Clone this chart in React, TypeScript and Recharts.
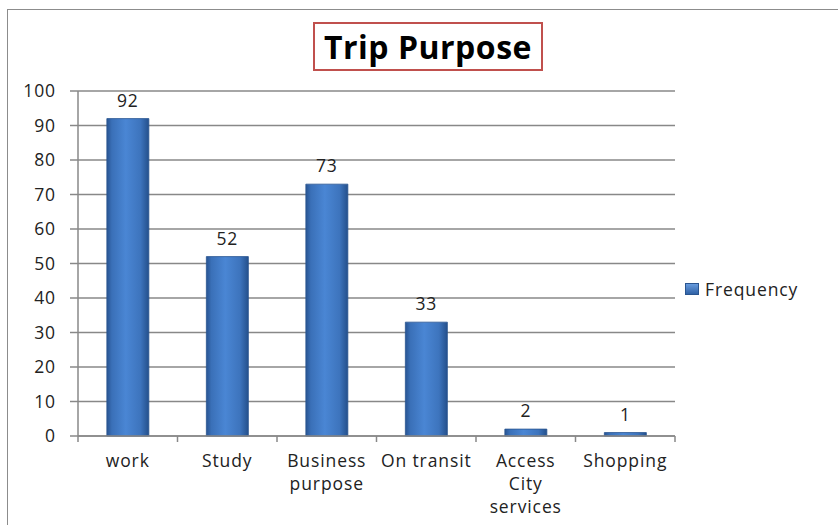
import React from 'react'
import { BarChart, Bar, XAxis, YAxis, CartesianGrid, LabelList } from 'recharts'

const categories = ['work', 'Study', 'Business\npurpose', 'On transit', 'Access\nCity\nservices', 'Shopping']
const frequency = [92, 52, 73, 33, 2, 1]
const yTicks = [0, 10, 20, 30, 40, 50, 60, 70, 80, 90, 100]

const data = categories.map((name, i) => ({ name, Frequency: frequency[i] }))

const FONT = '"Open Sans", "DejaVu Sans", sans-serif'
const GRID = '#888888'
const SPACING = 0.9

// category label plus a tick mark on the left edge of each band (and right edge of the last)
const CategoryTick = (props: any) => {
  const { x, y, payload, index, visibleTicksCount } = props
  const half = payload.offset || 0
  const lines = String(payload.value).split('\n')
  const last = index === (visibleTicksCount ?? categories.length) - 1
  return (
    <g>
      <line x1={x - half} x2={x - half} y1={y} y2={y + 6} stroke={GRID} strokeWidth={1.5} />
      {last && <line x1={x + half} x2={x + half} y1={y} y2={y + 6} stroke={GRID} strokeWidth={1.5} />}
      <text x={x} y={y} textAnchor="middle" fontFamily={FONT} fontSize={17.5} letterSpacing={SPACING} fill="#222">
        {lines.map((l, i) => (
          <tspan key={i} x={x} dy={i === 0 ? 31 : 23}>{l}</tspan>
        ))}
      </text>
    </g>
  )
}

const LegendBox = () => (
  <div style={{ position: 'absolute', left: 685, top: 277, display: 'flex', alignItems: 'center', fontFamily: FONT, fontSize: 17.5, letterSpacing: SPACING, color: '#222' }}>
    <svg width={14} height={12} style={{ marginRight: 6 }}>
      <defs>
        <linearGradient id="legSwatch" x1="0" y1="0" x2="0" y2="1">
          <stop offset="0%" stopColor="#6a9ee0" />
          <stop offset="100%" stopColor="#2d5fa3" />
        </linearGradient>
      </defs>
      <rect x={0.5} y={0.5} width={13} height={11} fill="url(#legSwatch)" stroke="#2a5590" />
    </svg>
    <span>Frequency</span>
  </div>
)

export default function App() {
  return (
    <div style={{ position: 'absolute', left: 0, top: 0, width: 838, height: 525, background: '#fff', overflow: 'hidden' }}>
      {/* outer frame */}
      <div style={{ position: 'absolute', left: 7, top: 9, width: 840, height: 530, border: '1.5px solid #8c8c8c' }} />
      {/* title */}
      <div
        style={{
          position: 'absolute', left: 313, top: 22, width: 226, height: 45,
          border: '2px solid #c0504d', display: 'flex', alignItems: 'center', justifyContent: 'center',
          fontFamily: FONT, fontWeight: 700, fontSize: 32, color: '#000', letterSpacing: 0.5
        }}
      >
        Trip Purpose
      </div>
      <div style={{ position: 'absolute', left: 0, top: 0 }}>
        <BarChart width={838} height={525} data={data} margin={{ top: 91, right: 163, bottom: 0, left: 0 }} barCategoryGap="29%">
          <defs>
            <linearGradient id="barFill" x1="0" y1="0" x2="1" y2="0">
              <stop offset="0%" stopColor="#285492" />
              <stop offset="12%" stopColor="#3a70b8" />
              <stop offset="45%" stopColor="#4a86d4" />
              <stop offset="80%" stopColor="#3d74bd" />
              <stop offset="100%" stopColor="#24508c" />
            </linearGradient>
          </defs>
          <CartesianGrid vertical={false} horizontal stroke={GRID} strokeWidth={1.5} />
          <XAxis
            dataKey="name"
            height={89}
            interval={0}
            tickLine={false}
            tickSize={0}
            tickMargin={0}
            axisLine={{ stroke: GRID, strokeWidth: 1.5 }}
            tick={<CategoryTick />}
          />
          <YAxis
            width={78}
            domain={[0, 100]}
            ticks={yTicks}
            interval={0}
            tickSize={8}
            tickMargin={14}
            tickLine={{ stroke: GRID, strokeWidth: 1.5 }}
            axisLine={{ stroke: GRID, strokeWidth: 1.5 }}
            tick={{ fontFamily: FONT, fontSize: 17.5, fill: '#222', letterSpacing: SPACING }}
          />
          <Bar dataKey="Frequency" fill="url(#barFill)" stroke="#2a5590" strokeWidth={0.8} isAnimationActive={false}>
            <LabelList dataKey="Frequency" position="top" offset={12} style={{ fontFamily: FONT, fontSize: 17.5, fill: '#222', letterSpacing: SPACING }} />
          </Bar>
        </BarChart>
      </div>
      <LegendBox />
    </div>
  )
}
